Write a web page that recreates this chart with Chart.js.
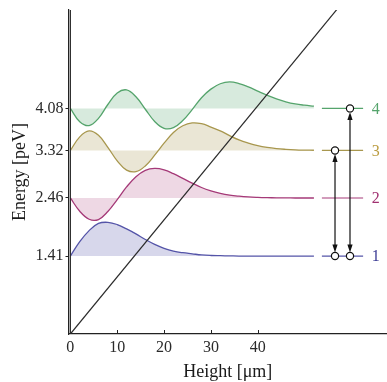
<!DOCTYPE html>
<html>
<head>
<meta charset="utf-8">
<script src="https://cdn.jsdelivr.net/npm/chart.js@4.4.1/dist/chart.umd.min.js"></script>
<style>
  html, body { margin: 0; padding: 0; background: #ffffff; }
  #wrap { width: 387px; height: 382px; }
</style>
</head>
<body>
<div id="wrap"><canvas id="levelsChart" width="387" height="382"></canvas></div>
<script>
const heights = [0, 2, 4, 6, 8, 10, 12, 14, 16, 18, 20, 22, 24, 26, 28, 30, 32, 34, 36, 38, 40, 42, 44, 46, 48, 50, 52];

// curves drawn around each level (peV)
const state1 = [1.41, 1.67, 1.87, 2.00, 2.02, 1.98, 1.90, 1.81, 1.71, 1.62, 1.55, 1.50, 1.47, 1.45, 1.43, 1.42, 1.416, 1.413, 1.41, 1.41, 1.41, 1.41, 1.41, 1.41, 1.41, 1.41, 1.41];
const state2 = [2.46, 2.22, 2.075, 2.07, 2.215, 2.43, 2.66, 2.845, 2.96, 2.995, 2.97, 2.90, 2.815, 2.73, 2.65, 2.59, 2.545, 2.513, 2.493, 2.479, 2.471, 2.466, 2.463, 2.461, 2.46, 2.46, 2.46];
const state3 = [3.32, 3.565, 3.673, 3.594, 3.377, 3.131, 2.965, 2.936, 3.04, 3.234, 3.451, 3.646, 3.766, 3.818, 3.803, 3.743, 3.673, 3.588, 3.511, 3.453, 3.406, 3.374, 3.353, 3.34, 3.331, 3.326, 3.323];
const state4 = [4.08, 3.84, 3.77, 3.90, 4.151, 4.359, 4.415, 4.29, 4.065, 3.844, 3.72, 3.732, 3.86, 4.057, 4.274, 4.429, 4.526, 4.56, 4.53, 4.468, 4.392, 4.318, 4.252, 4.2, 4.162, 4.138, 4.12];

const levelEnergies = [1.41, 2.46, 3.32, 4.08];
const levelNames = ["1", "2", "3", "4"];

// gravitational potential line
const potentialZ = [0, 60];
const potentialE = [0, 6.19];

// transitions shown with arrows (lower level, upper level)
const transitions = [[1, 3], [1, 4]];

const xTicks = [0, 10, 20, 30, 40];

// placement of the level diagram on the right, in axis units
const levelLineFrom = 53.7, levelLineTo = 62.5, labelZ = 65.2;
const transitionZ = [56.5, 59.7];

const lineColors = ["#5454a8", "#a53a78", "#a8974e", "#55a46c"];
const fillColors = ["rgba(88,88,172,0.24)", "rgba(168,60,120,0.2)", "rgba(168,150,80,0.24)", "rgba(88,168,112,0.24)"];
const labelColors = ["#3a3a94", "#a03070", "#bb9c40", "#55a46c"];

const serif = "'Liberation Serif', 'DejaVu Serif', serif";
const states = [state1, state2, state3, state4];

const datasets = [];
states.forEach((vals, i) => {
    datasets.push({
        label: "state " + levelNames[i],
        data: heights.map((z, k) => ({ x: z, y: vals[k] })),
        borderColor: lineColors[i],
        backgroundColor: fillColors[i],
        borderWidth: 1.3,
        pointRadius: 0,
        tension: 0.4,
        fill: { value: levelEnergies[i] },
        order: 5
    });
    datasets.push({
        label: "level " + levelNames[i],
        data: [{ x: levelLineFrom, y: levelEnergies[i] }, { x: levelLineTo, y: levelEnergies[i] }],
        borderColor: lineColors[i],
        borderWidth: 1.2,
        pointRadius: 0,
        fill: false,
        order: 4
    });
});

datasets.push({
    label: "potential",
    data: potentialZ.map((z, k) => ({ x: z, y: potentialE[k] })),
    borderColor: "#2b2b2b",
    borderWidth: 1.2,
    pointRadius: 0,
    fill: false,
    order: 2
});

// mirror wall at zero height
datasets.push({
    label: "mirror",
    data: [{ x: 0, y: 0 }, { x: 0, y: 6.5 }],
    borderColor: "#2b2b2b",
    borderWidth: 1.2,
    pointRadius: 0,
    fill: false,
    order: 1
});

const circlePoints = [];
transitions.forEach((t, i) => {
    circlePoints.push({ x: transitionZ[i], y: levelEnergies[t[0] - 1] });
    circlePoints.push({ x: transitionZ[i], y: levelEnergies[t[1] - 1] });
});
datasets.push({
    label: "ends",
    data: circlePoints,
    showLine: false,
    pointRadius: 3.6,
    pointBackgroundColor: "#ffffff",
    pointBorderColor: "#111111",
    pointBorderWidth: 1.2,
    order: 0
});

const decorPlugin = {
    id: "decor",
    afterDatasetsDraw(chart) {
        const ctx = chart.ctx;
        const xs = chart.scales.x, ys = chart.scales.y;
        const area = chart.chartArea;
        ctx.save();
        // inward ticks on the height axis
        ctx.strokeStyle = "#222";
        ctx.lineWidth = 1;
        xTicks.forEach(v => {
            if (v === 0) return;
            const px = Math.round(xs.getPixelForValue(v)) + 0.5;
            ctx.beginPath();
            ctx.moveTo(px, area.bottom);
            ctx.lineTo(px, area.bottom - 4);
            ctx.stroke();
        });
        // transition arrows
        const r = 3.6;
        ctx.fillStyle = "#111";
        ctx.strokeStyle = "#111";
        ctx.lineWidth = 1.2;
        transitions.forEach((t, i) => {
            const px = xs.getPixelForValue(transitionZ[i]);
            const yLow = ys.getPixelForValue(levelEnergies[t[0] - 1]) - r;
            const yHigh = ys.getPixelForValue(levelEnergies[t[1] - 1]) + r;
            ctx.beginPath();
            ctx.moveTo(px, yLow - 6);
            ctx.lineTo(px, yHigh + 6);
            ctx.stroke();
            ctx.beginPath();
            ctx.moveTo(px, yHigh);
            ctx.lineTo(px - 2.6, yHigh + 8);
            ctx.lineTo(px + 2.6, yHigh + 8);
            ctx.closePath();
            ctx.fill();
            ctx.beginPath();
            ctx.moveTo(px, yLow);
            ctx.lineTo(px - 2.6, yLow - 8);
            ctx.lineTo(px + 2.6, yLow - 8);
            ctx.closePath();
            ctx.fill();
        });
        // level numbers
        ctx.font = "16px " + serif;
        ctx.textAlign = "center";
        ctx.textBaseline = "middle";
        levelNames.forEach((name, i) => {
            ctx.fillStyle = labelColors[i];
            ctx.fillText(name, xs.getPixelForValue(labelZ), ys.getPixelForValue(levelEnergies[i]) + 1);
        });
        ctx.restore();
    }
};

new Chart(document.getElementById("levelsChart"), {
    type: "line",
    data: { datasets: datasets },
    options: {
        responsive: false,
        animation: false,
        layout: { autoPadding: false, padding: { top: 10, right: 0, left: 0, bottom: 0 } },
        plugins: {
            legend: { display: false },
            tooltip: { enabled: false }
        },
        scales: {
            x: {
                type: "linear",
                min: -0.4,
                max: 67.6,
                afterFit: s => { s.height = 48; s.paddingLeft = 0; s.paddingRight = 0; },
                afterBuildTicks: s => { s.ticks = xTicks.map(v => ({ value: v })); },
                grid: { display: false, drawTicks: false },
                border: { display: true, color: "#222", width: 1.2 },
                ticks: {
                    color: "#2a2a2a",
                    padding: 4,
                    maxRotation: 0,
                    font: { family: serif, size: 16 },
                    callback: v => String(v)
                },
                title: {
                    display: true,
                    text: "Height [μm]",
                    color: "#1a1a1a",
                    font: { family: serif, size: 18 },
                    padding: { top: 0, bottom: -1 }
                }
            },
            y: {
                type: "linear",
                min: 0,
                max: 5.86,
                afterFit: s => { s.width = 68.5; s.paddingTop = 0; s.paddingBottom = 0; },
                afterBuildTicks: s => { s.ticks = levelEnergies.map(v => ({ value: v })); },
                grid: { display: true, drawOnChartArea: false, drawTicks: true, tickLength: 3, color: "#222" },
                border: { display: true, color: "#222", width: 1.2 },
                ticks: {
                    color: "#2a2a2a",
                    padding: 2,
                    font: { family: serif, size: 16 },
                    callback: v => v.toFixed(2)
                },
                title: {
                    display: true,
                    text: "Energy [peV]",
                    color: "#1a1a1a",
                    font: { family: serif, size: 18 },
                    padding: { top: 9, bottom: 0 }
                }
            }
        }
    },
    plugins: [decorPlugin]
});
</script>
</body>
</html>
